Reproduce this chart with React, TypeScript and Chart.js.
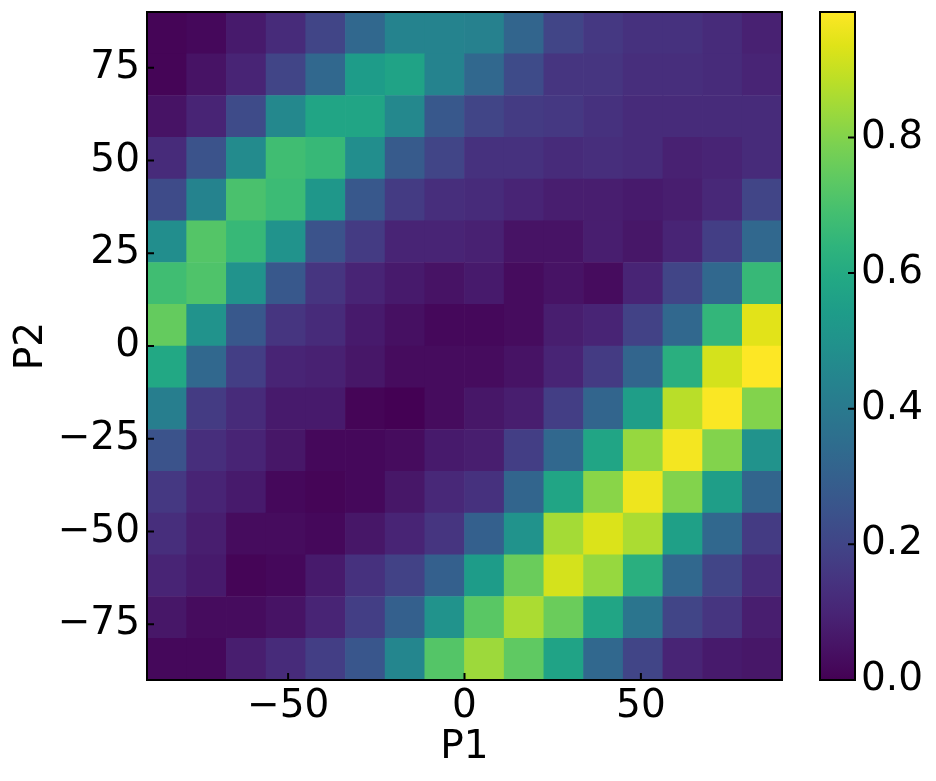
import React, { useEffect, useRef } from "react";
import { Chart, registerables } from "chart.js";

Chart.register(...registerables);

// Bin edges (degrees)
const P1_EDGES = [-90, -78.75, -67.5, -56.25, -45, -33.75, -22.5, -11.25, 0, 11.25, 22.5, 33.75, 45, 56.25, 67.5, 78.75, 90];
const P2_EDGES = [-90, -78.75, -67.5, -56.25, -45, -33.75, -22.5, -11.25, 0, 11.25, 22.5, 33.75, 45, 56.25, 67.5, 78.75, 90];

// Tick labels
const P1_TICKS = [-50, 0, 50];
const P2_TICKS = [-75, -50, -25, 0, 25, 50, 75];
const CB_TICKS = [0, 0.2, 0.4, 0.6, 0.8];

// Values per P2 bin (top row = P2 78.75..90, bottom row = P2 -90..-78.75), columns = P1 bins left to right
const ROW_P2_90 = [0.01, 0.02, 0.07, 0.12, 0.20, 0.33, 0.44, 0.44, 0.43, 0.32, 0.20, 0.16, 0.14, 0.14, 0.12, 0.09];
const ROW_P2_79 = [0.01, 0.05, 0.10, 0.20, 0.33, 0.54, 0.57, 0.44, 0.33, 0.22, 0.15, 0.15, 0.13, 0.13, 0.12, 0.10];
const ROW_P2_68 = [0.05, 0.10, 0.22, 0.46, 0.58, 0.58, 0.46, 0.27, 0.20, 0.17, 0.16, 0.14, 0.12, 0.12, 0.12, 0.12];
const ROW_P2_56 = [0.12, 0.25, 0.47, 0.68, 0.66, 0.48, 0.28, 0.20, 0.14, 0.14, 0.12, 0.13, 0.12, 0.09, 0.10, 0.12];
const ROW_P2_45 = [0.22, 0.44, 0.70, 0.67, 0.52, 0.27, 0.17, 0.13, 0.12, 0.10, 0.08, 0.08, 0.07, 0.08, 0.11, 0.20];
const ROW_P2_34 = [0.48, 0.72, 0.66, 0.50, 0.25, 0.17, 0.10, 0.10, 0.09, 0.05, 0.05, 0.08, 0.06, 0.10, 0.18, 0.33];
const ROW_P2_23 = [0.68, 0.71, 0.50, 0.27, 0.15, 0.10, 0.07, 0.05, 0.07, 0.03, 0.05, 0.03, 0.10, 0.20, 0.33, 0.66];
const ROW_P2_11 = [0.75, 0.50, 0.27, 0.15, 0.12, 0.07, 0.04, 0.02, 0.02, 0.03, 0.08, 0.10, 0.19, 0.33, 0.65, 0.94];
const ROW_P2_0 = [0.59, 0.33, 0.18, 0.10, 0.09, 0.06, 0.03, 0.03, 0.03, 0.05, 0.10, 0.17, 0.32, 0.62, 0.92, 0.985];
const ROW_P2_M11 = [0.42, 0.17, 0.12, 0.07, 0.07, 0.01, 0.00, 0.03, 0.06, 0.08, 0.18, 0.32, 0.55, 0.88, 0.98, 0.80];
const ROW_P2_M23 = [0.25, 0.13, 0.10, 0.06, 0.02, 0.02, 0.03, 0.07, 0.08, 0.18, 0.33, 0.58, 0.83, 0.97, 0.80, 0.50];
const ROW_P2_M34 = [0.16, 0.10, 0.07, 0.02, 0.01, 0.02, 0.06, 0.11, 0.14, 0.32, 0.58, 0.81, 0.96, 0.80, 0.55, 0.32];
const ROW_P2_M45 = [0.13, 0.08, 0.03, 0.03, 0.02, 0.06, 0.10, 0.15, 0.30, 0.50, 0.85, 0.93, 0.86, 0.56, 0.33, 0.17];
const ROW_P2_M56 = [0.10, 0.07, 0.01, 0.02, 0.07, 0.14, 0.19, 0.30, 0.54, 0.76, 0.92, 0.83, 0.62, 0.33, 0.20, 0.12];
const ROW_P2_M68 = [0.06, 0.03, 0.03, 0.05, 0.10, 0.18, 0.30, 0.50, 0.73, 0.86, 0.76, 0.58, 0.38, 0.20, 0.15, 0.08];
const ROW_P2_M79 = [0.02, 0.02, 0.08, 0.12, 0.18, 0.26, 0.45, 0.72, 0.84, 0.74, 0.57, 0.33, 0.20, 0.10, 0.07, 0.06];

const ROWS_TOP_TO_BOTTOM = [
  ROW_P2_90, ROW_P2_79, ROW_P2_68, ROW_P2_56, ROW_P2_45, ROW_P2_34, ROW_P2_23, ROW_P2_11,
  ROW_P2_0, ROW_P2_M11, ROW_P2_M23, ROW_P2_M34, ROW_P2_M45, ROW_P2_M56, ROW_P2_M68, ROW_P2_M79,
];

// viridis colormap stops (every 0.05)
const VIRIDIS = [
  "#440154", "#471365", "#482475", "#463480", "#414487", "#3b528b", "#355f8d",
  "#2f6c8e", "#2a788e", "#25848e", "#21918c", "#1e9c89", "#22a884", "#2fb47c",
  "#44bf70", "#5ec962", "#7ad151", "#9bd93c", "#bddf26", "#dfe318", "#fde725",
];

function hexToRgb(h: string) {
  return [parseInt(h.slice(1, 3), 16), parseInt(h.slice(3, 5), 16), parseInt(h.slice(5, 7), 16)];
}
function viridis(t: number) {
  const tt = Math.max(0, Math.min(1, t));
  const pos = tt * (VIRIDIS.length - 1);
  const i = Math.min(VIRIDIS.length - 2, Math.floor(pos));
  const f = pos - i;
  const a = hexToRgb(VIRIDIS[i]);
  const b = hexToRgb(VIRIDIS[i + 1]);
  const c = a.map((v, k) => Math.round(v + (b[k] - v) * f));
  return `rgb(${c[0]},${c[1]},${c[2]})`;
}

const FONT = { family: "'DejaVu Sans', sans-serif", size: 39 };
const fmtMinus = (v: any) => String(v).replace("-", "\u2212");

export default function App() {
  const mainRef = useRef<HTMLCanvasElement>(null);
  const cbRef = useRef<HTMLCanvasElement>(null);

  useEffect(() => {
    const vmax = Math.max(...ROWS_TOP_TO_BOTTOM.flat());
    const cells: any[] = [];
    const colors: string[] = [];
    const nRows = ROWS_TOP_TO_BOTTOM.length;
    ROWS_TOP_TO_BOTTOM.forEach((row, r) => {
      const hi = P2_EDGES[nRows - r];
      const lo = P2_EDGES[nRows - r - 1];
      row.forEach((v, c) => {
        cells.push({ x: (P1_EDGES[c] + P1_EDGES[c + 1]) / 2, y: [lo, hi] });
        colors.push(viridis(v / vmax));
      });
    });

    const framePlugin = {
      id: "frame",
      afterDatasetsDraw(chart: any) {
        const { ctx, chartArea: a, scales } = chart;
        ctx.save();
        ctx.strokeStyle = "#000";
        ctx.lineWidth = 2;
        ctx.beginPath();
        P1_TICKS.forEach((v) => {
          const x = scales.x.getPixelForValue(v);
          ctx.moveTo(x, a.bottom);
          ctx.lineTo(x, a.bottom - 7);
        });
        P2_TICKS.forEach((v) => {
          const y = scales.y.getPixelForValue(v);
          ctx.moveTo(a.left, y);
          ctx.lineTo(a.left + 7, y);
        });
        ctx.stroke();
        ctx.strokeRect(a.left, a.top, a.right - a.left, a.bottom - a.top);
        ctx.restore();
      },
    };

    const main = new Chart(mainRef.current!, {
      type: "bar",
      data: {
        datasets: [
          {
            data: cells,
            backgroundColor: colors,
            borderWidth: 0,
            barPercentage: 1,
            categoryPercentage: 1,
          } as any,
        ],
      },
      options: {
        responsive: false,
        animation: false,
        events: [],
        layout: { padding: { left: 0, right: 18, top: 12, bottom: 0 } },
        plugins: { legend: { display: false }, tooltip: { enabled: false } },
        scales: {
          x: {
            type: "linear",
            min: -90,
            max: 90,
            offset: false,
            grid: { display: false, drawTicks: false },
            border: { display: false },
            afterBuildTicks: (s: any) => {
              s.ticks = P1_TICKS.map((v) => ({ value: v }));
            },
            afterFit: (s: any) => {
              s.height = 101;
              s.paddingLeft = 0;
              s.paddingRight = 0;
            },
            ticks: { padding: 3, font: FONT, color: "#000", maxRotation: 0, autoSkip: false, callback: fmtMinus },
            title: { display: true, text: "P1", font: FONT, color: "#000", padding: { top: 0, bottom: 10 } },
          },
          y: {
            type: "linear",
            min: -90,
            max: 90,
            grid: { display: false, drawTicks: false },
            border: { display: false },
            afterBuildTicks: (s: any) => {
              s.ticks = P2_TICKS.map((v) => ({ value: v }));
            },
            afterFit: (s: any) => {
              s.width = 147;
              s.paddingTop = 0;
              s.paddingBottom = 0;
            },
            ticks: { padding: 7, font: FONT, color: "#000", autoSkip: false, callback: fmtMinus },
            title: { display: true, text: "P2", font: FONT, color: "#000", padding: { top: 8, bottom: 0 } },
          },
        },
      } as any,
      plugins: [framePlugin],
    });

    const cbPlugin = {
      id: "colorbar",
      beforeDatasetsDraw(chart: any) {
        const { ctx, chartArea: a, scales } = chart;
        ctx.save();
        const g = ctx.createLinearGradient(0, a.bottom, 0, a.top);
        VIRIDIS.forEach((c, i) => g.addColorStop(i / (VIRIDIS.length - 1), c));
        ctx.fillStyle = g;
        ctx.fillRect(a.left, a.top, a.right - a.left, a.bottom - a.top);
        ctx.strokeStyle = "#000";
        ctx.lineWidth = 2;
        ctx.beginPath();
        CB_TICKS.forEach((v) => {
          const y = scales.y.getPixelForValue(v);
          ctx.moveTo(a.right, y);
          ctx.lineTo(a.right - 7, y);
        });
        ctx.stroke();
        ctx.strokeRect(a.left, a.top, a.right - a.left, a.bottom - a.top);
        ctx.restore();
      },
    };

    const cb = new Chart(cbRef.current!, {
      type: "bar",
      data: { labels: [""], datasets: [] },
      options: {
        responsive: false,
        animation: false,
        events: [],
        layout: { padding: { left: 20, right: 0, top: 12, bottom: 101 } },
        plugins: { legend: { display: false }, tooltip: { enabled: false } },
        scales: {
          x: { display: false },
          y: {
            position: "right",
            min: 0,
            max: vmax,
            grid: { display: false, drawTicks: false },
            border: { display: false },
            afterBuildTicks: (s: any) => {
              s.ticks = CB_TICKS.map((v) => ({ value: v }));
            },
            afterFit: (s: any) => {
              s.width = 81;
              s.paddingTop = 0;
              s.paddingBottom = 0;
            },
            ticks: { padding: 6, font: FONT, color: "#000", autoSkip: false, callback: (v: any) => Number(v).toFixed(1) },
          },
        },
      } as any,
      plugins: [cbPlugin],
    });

    return () => {
      main.destroy();
      cb.destroy();
    };
  }, []);

  return (
    <div style={{ position: "absolute", left: 0, top: 0, width: 936, height: 781, background: "#fff" }}>
      <canvas ref={mainRef} width={800} height={781} style={{ position: "absolute", left: 0, top: 0, display: "block" }} />
      <canvas ref={cbRef} width={136} height={781} style={{ position: "absolute", left: 800, top: 0, display: "block" }} />
    </div>
  );
}
